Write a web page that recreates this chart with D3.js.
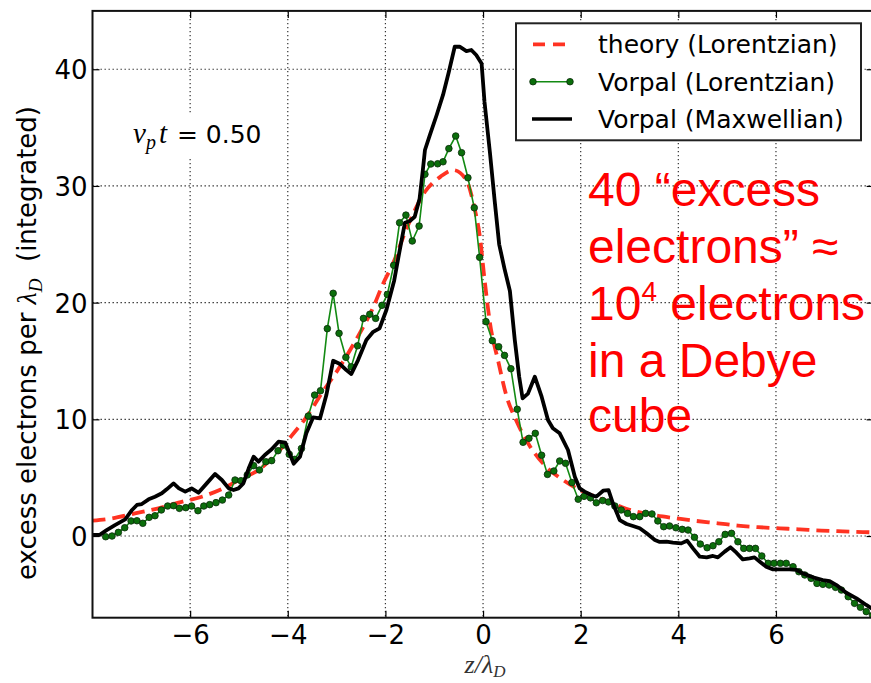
<!DOCTYPE html>
<html>
<head>
<meta charset="utf-8">
<script src="https://cdn.jsdelivr.net/npm/d3@7"></script>
<style>
  body { margin: 0; background: #fff; }
  svg { display: block; }
</style>
</head>
<body>
<svg id="chart" width="871" height="683"></svg>
<script>
// Theory curve (Lorentzian), sampled along z / lambda_D
const theoryZ = [-8, -7.6, -7.13, -6.65, -6.24, -5.76, -5.32, -4.94, -4.6, -4.2, -3.92, -3.6, -3.31, -2.95, -2.59, -2.25, -2.05, -1.85, -1.57, -1.19, -0.87, -0.61, -0.35, -0.17, -0.07, 0.03, 0.14, 0.31, 0.48, 0.68, 0.96, 1.3, 1.64, 1.98, 2.39, 2.8, 3.0, 3.48, 3.96, 4.37, 4.81, 5.22, 5.63, 6.08, 6.49, 6.93, 7.37, 7.78, 8];
const theoryV = [1.31, 1.51, 1.94, 2.37, 2.86, 3.37, 4.08, 4.94, 5.66, 7.2, 8.6, 10.3, 12.2, 14.4, 16.9, 19.6, 21.6, 23.3, 26.3, 29.5, 30.8, 31.36, 30.56, 28.0, 25.8, 22.0, 18.3, 15.0, 12.0, 9.9, 7.7, 5.9, 4.8, 3.94, 3.23, 2.55, 2.25, 1.8, 1.51, 1.29, 1.09, 0.89, 0.76, 0.66, 0.57, 0.47, 0.4, 0.34, 0.31];

// Vorpal run with a Lorentzian distribution
const lorentzZ = [-7.73,-7.60,-7.47,-7.34,-7.21,-7.09,-6.97,-6.84,-6.72,-6.59,-6.46,-6.34,-6.22,-6.09,-5.97,-5.84,-5.72,-5.60,-5.47,-5.34,-5.21,-5.08,-4.96,-4.83,-4.70,-4.58,-4.45,-4.33,-4.20,-4.09,-3.97,-3.86,-3.72,-3.58,-3.45,-3.33,-3.19,-3.07,-2.95,-2.81,-2.70,-2.57,-2.45,-2.32,-2.20,-2.07,-1.96,-1.83,-1.71,-1.58,-1.45,-1.31,-1.19,-1.07,-0.93,-0.82,-0.70,-0.56,-0.44,-0.31,-0.18,-0.07,0.06,0.19,0.32,0.44,0.57,0.70,0.82,0.94,1.07,1.20,1.32,1.45,1.57,1.69,1.82,1.95,2.07,2.20,2.32,2.45,2.57,2.70,2.83,2.96,3.08,3.21,3.33,3.46,3.58,3.70,3.82,3.95,4.08,4.20,4.33,4.45,4.59,4.71,4.83,4.96,5.09,5.22,5.34,5.46,5.58,5.71,5.84,5.96,6.09,6.21,6.35,6.47,6.59,6.72,6.84,6.96,7.09,7.22,7.34,7.48,7.61,7.73,7.85,7.98];
const lorentzV = [-0.06,0.0,0.31,0.71,1.29,1.31,1.09,1.6,1.74,2.23,2.57,2.6,2.37,2.43,2.57,2.17,2.57,2.69,2.86,3.08,3.51,4.8,4.74,5.23,6.03,5.66,6.37,6.46,7.31,7.8,7.0,6.57,7.5,10.28,12.08,12.45,17.77,20.8,17.37,15.31,14.5,16.3,18.65,19.0,18.65,19.77,20.7,23.2,26.85,27.5,25.28,26.56,31.0,31.88,31.9,32.07,33.2,34.28,32.85,30.7,28.13,23.88,18.37,16.74,16.22,15.48,14.34,10.86,8.03,8.37,8.8,6.92,5.28,5.57,6.43,6.23,4.58,3.15,3.4,3.27,2.85,3.04,2.92,2.57,2.23,1.94,1.66,1.66,1.94,1.89,1.29,0.8,0.86,0.71,0.57,0.51,-0.11,-0.69,-1.0,-0.83,-0.49,0.14,0.23,-0.49,-1.06,-1.06,-1.06,-1.71,-2.34,-2.34,-2.34,-2.34,-2.63,-3.06,-3.34,-3.63,-4.06,-4.14,-4.2,-4.4,-4.63,-5.2,-5.77,-6.11,-6.48,-6.8];

// Vorpal run with a Maxwellian distribution
const maxwellZ = [-8.0,-7.86,-7.71,-7.54,-7.33,-7.19,-7.09,-6.99,-6.85,-6.72,-6.58,-6.48,-6.34,-6.23,-6.10,-5.97,-5.83,-5.66,-5.49,-5.35,-5.21,-5.11,-5.01,-4.91,-4.80,-4.70,-4.60,-4.47,-4.33,-4.19,-4.05,-3.88,-3.75,-3.62,-3.48,-3.34,-3.21,-3.07,-2.93,-2.80,-2.70,-2.56,-2.39,-2.25,-2.12,-1.98,-1.82,-1.72,-1.60,-1.50,-1.40,-1.30,-1.23,-1.19,-1.09,-0.95,-0.82,-0.70,-0.58,-0.48,-0.34,-0.24,-0.14,-0.03,0.03,0.14,0.24,0.33,0.44,0.55,0.65,0.74,0.81,0.92,1.06,1.20,1.33,1.43,1.57,1.74,1.88,1.98,2.08,2.22,2.32,2.46,2.57,2.66,2.80,2.94,3.07,3.21,3.35,3.52,3.62,3.76,3.89,4.06,4.18,4.30,4.44,4.58,4.71,4.81,4.95,5.07,5.19,5.32,5.46,5.56,5.67,5.80,5.94,6.11,6.28,6.42,6.55,6.76,6.96,7.10,7.24,7.44,7.65,7.85,8.0];
const maxwellV = [0.09,0.09,0.51,0.94,1.43,2.23,2.66,2.74,3.14,3.37,3.66,4.0,4.51,4.08,3.8,4.08,3.71,4.51,5.31,4.8,4.08,3.94,4.08,4.51,5.8,6.8,6.37,6.94,7.43,8.08,8.0,6.2,6.8,8.8,10.17,10.08,12.08,15.02,14.74,14.22,13.88,15.08,16.8,17.5,17.8,19.37,21.9,24.2,26.85,27.0,27.36,28.9,31.5,33.08,34.36,36.08,37.8,39.79,41.93,41.93,41.56,41.65,41.22,40.5,37.2,32.9,28.65,25.0,22.9,21.0,16.8,13.65,11.8,12.2,13.65,11.94,9.94,9.23,8.8,7.37,5.08,4.08,3.8,3.51,3.37,3.88,3.94,2.8,1.37,1.03,0.86,0.66,0.23,-0.34,-0.51,-0.49,-0.57,-0.63,-0.4,-1.06,-1.77,-1.83,-1.71,-1.83,-1.34,-0.97,-1.43,-2.0,-1.91,-1.83,-2.2,-2.63,-2.86,-2.86,-2.86,-2.91,-3.2,-3.54,-3.77,-3.86,-4.2,-4.86,-5.34,-5.91,-6.3];

const xTicks = [-6, -4, -2, 0, 2, 4, 6];
const yTicks = [0, 10, 20, 30, 40];
const legendLabels = ["theory (Lorentzian)", "Vorpal (Lorentzian)", "Vorpal (Maxwellian)"];
const noteLines = ["40 “excess", "electrons” ≈", "10|4| electrons", "in a Debye", "cube"];

const svg = d3.select("#chart");
const frame = { left: 92.5, right: 873.6, top: 10.9, bottom: 617.7 };

const x = d3.scaleLinear().domain([-8, 8]).range([frame.left, frame.right]);
const y = d3.scaleLinear().domain([-7, 45]).range([frame.bottom, frame.top]);

const SANS = "'DejaVu Sans', sans-serif";
const SERIF = "'Liberation Serif', 'DejaVu Serif', serif";

svg.append("defs").append("clipPath").attr("id", "plotClip")
  .append("rect")
  .attr("x", frame.left).attr("y", frame.top)
  .attr("width", frame.right - frame.left).attr("height", frame.bottom - frame.top);

// dotted grid
const grid = svg.append("g").attr("stroke", "#333").attr("stroke-width", 1.2)
  .attr("stroke-dasharray", "1.4,2.6");
grid.selectAll("line.gx").data(xTicks).join("line")
  .attr("x1", d => x(d)).attr("x2", d => x(d))
  .attr("y1", frame.top).attr("y2", frame.bottom);
grid.selectAll("line.gy").data(yTicks).join("line")
  .attr("x1", frame.left).attr("x2", frame.right)
  .attr("y1", d => y(d)).attr("y2", d => y(d));

// annotation with white box
const note = svg.append("g");
const noteBg = note.append("rect").attr("fill", "#fff");
const noteText = note.append("text").attr("x", 133).attr("y", 143).attr("fill", "#000");
noteText.append("tspan").attr("font-family", SERIF).attr("font-style", "italic").attr("font-size", 29).text("ν");
noteText.append("tspan").attr("font-family", SERIF).attr("font-style", "italic").attr("font-size", 20).attr("dy", 6).text("p");
noteText.append("tspan").attr("font-family", SERIF).attr("font-style", "italic").attr("font-size", 29).attr("dy", -6).attr("dx", 3).text("t");
noteText.append("tspan").attr("font-family", SANS).attr("font-size", 25).attr("dx", 2).text(" = 0.50");
const nb = noteText.node().getBBox();
noteBg.attr("x", nb.x - 5).attr("y", nb.y - 4).attr("width", nb.width + 10).attr("height", nb.height + 8);

// data series
const line = d3.line().x(d => x(d[0])).y(d => y(d[1]));
const plot = svg.append("g").attr("clip-path", "url(#plotClip)");

plot.append("path")
  .datum(d3.zip(theoryZ, theoryV))
  .attr("d", line.curve(d3.curveMonotoneX))
  .attr("fill", "none").attr("stroke", "#ff3322").attr("stroke-width", 3.8)
  .attr("stroke-dasharray", "13,7");

line.curve(d3.curveLinear);
const lorentzPts = d3.zip(lorentzZ, lorentzV);
plot.append("path")
  .datum(lorentzPts)
  .attr("d", line)
  .attr("fill", "none").attr("stroke", "#138a13").attr("stroke-width", 1.6);
plot.append("g").selectAll("circle").data(lorentzPts).join("circle")
  .attr("cx", d => x(d[0])).attr("cy", d => y(d[1])).attr("r", 3.3)
  .attr("fill", "#0b6e0b").attr("stroke", "#0a2a0a").attr("stroke-width", 0.8);

plot.append("path")
  .datum(d3.zip(maxwellZ, maxwellV))
  .attr("d", line)
  .attr("fill", "none").attr("stroke", "#000").attr("stroke-width", 3.8)
  .attr("stroke-linejoin", "round");

// axes: inward ticks on all four sides
const tick = 7;
const axB = svg.append("g").attr("transform", `translate(0,${frame.bottom})`)
  .call(d3.axisBottom(x).tickValues(xTicks).tickSize(-tick).tickPadding(0));
axB.selectAll("text").attr("y", 26).attr("dy", null)
  .attr("font-family", SANS).attr("font-size", 26).attr("fill", "#000");
const axT = svg.append("g").attr("transform", `translate(0,${frame.top})`)
  .call(d3.axisTop(x).tickValues(xTicks).tickSize(-tick).tickFormat(""));
const axL = svg.append("g").attr("transform", `translate(${frame.left},0)`)
  .call(d3.axisLeft(y).tickValues(yTicks).tickSize(-tick).tickPadding(5));
axL.selectAll("text").attr("dy", "0.36em")
  .attr("font-family", SANS).attr("font-size", 26).attr("fill", "#000");
const axR = svg.append("g").attr("transform", `translate(${frame.right},0)`)
  .call(d3.axisRight(y).tickValues(yTicks).tickSize(-tick).tickFormat(""));
[axB, axT, axL, axR].forEach(a => {
  a.select(".domain").remove();
  a.selectAll(".tick line").attr("stroke", "#000").attr("stroke-width", 1.2);
});

svg.append("rect")
  .attr("x", frame.left).attr("y", frame.top)
  .attr("width", frame.right - frame.left).attr("height", frame.bottom - frame.top)
  .attr("fill", "none").attr("stroke", "#111").attr("stroke-width", 2);

// axis titles
const xt = svg.append("text").attr("x", 485).attr("y", 673).attr("text-anchor", "middle")
  .attr("font-family", SERIF).attr("font-style", "italic").attr("font-size", 26).attr("fill", "#333");
xt.append("tspan").text("z/λ");
xt.append("tspan").attr("font-size", 17).attr("dy", 4).text("D");

const yt = svg.append("text").attr("transform", "translate(36,343) rotate(-90)")
  .attr("text-anchor", "middle").attr("font-family", SANS).attr("font-size", 26).attr("fill", "#000")
  .attr("xml:space", "preserve");
yt.append("tspan").text("excess electrons per ");
yt.append("tspan").attr("font-family", SERIF).attr("font-style", "italic").attr("font-size", 28).text("λ");
yt.append("tspan").attr("font-family", SERIF).attr("font-style", "italic").attr("font-size", 19).attr("dy", 6).text("D");
yt.append("tspan").attr("dy", -6).text("  (integrated)");

// legend
const lg = svg.append("g");
lg.append("rect").attr("x", 516).attr("y", 23.3).attr("width", 345).attr("height", 117)
  .attr("fill", "#fff").attr("stroke", "#222").attr("stroke-width", 2);
const rowY = [44.3, 81.7, 119];
lg.append("line").attr("x1", 533).attr("x2", 565).attr("y1", rowY[0]).attr("y2", rowY[0])
  .attr("stroke", "#ff3322").attr("stroke-width", 3.8).attr("stroke-dasharray", "12,8");
lg.append("line").attr("x1", 533).attr("x2", 570).attr("y1", rowY[1]).attr("y2", rowY[1])
  .attr("stroke", "#138a13").attr("stroke-width", 1.6);
lg.selectAll("circle").data([533, 570]).join("circle")
  .attr("cx", d => d).attr("cy", rowY[1]).attr("r", 3.3)
  .attr("fill", "#0b6e0b").attr("stroke", "#0a2a0a").attr("stroke-width", 0.8);
lg.append("line").attr("x1", 532).attr("x2", 572).attr("y1", rowY[2]).attr("y2", rowY[2])
  .attr("stroke", "#000").attr("stroke-width", 3.6);
lg.selectAll("text").data(legendLabels).join("text")
  .attr("x", 598).attr("y", (d, i) => rowY[i] + 9)
  .attr("font-family", SANS).attr("font-size", 25).attr("fill", "#000")
  .text(d => d);

// red annotation block
const red = svg.append("text").attr("font-family", "'Liberation Sans', Arial, sans-serif")
  .attr("font-size", 48).attr("fill", "#ff0000");
const baseY = [206, 263, 320, 377, 432];
noteLines.forEach((s, i) => {
  const parts = s.split("|");
  const t = red.append("tspan").attr("x", 588).attr("y", baseY[i]);
  if (parts.length === 1) { t.text(s); return; }
  t.text(parts[0]);
  red.append("tspan").attr("font-size", 28).attr("dy", -19).text(parts[1]);
  red.append("tspan").attr("dy", 19).text(parts[2]);
});
</script>
</body>
</html>
